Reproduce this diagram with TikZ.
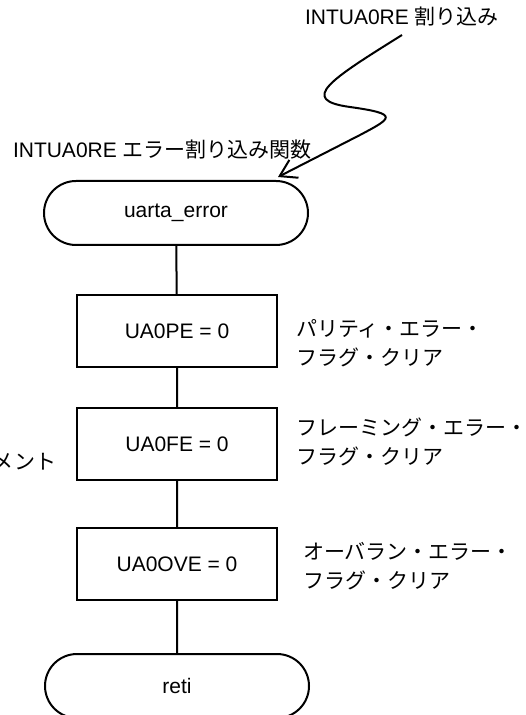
\documentclass[tikz,border=0pt]{standalone}
\usepackage{fontspec}
\setmainfont{Liberation Sans}
\newfontfamily\jpfont{Noto Sans CJK JP}
\usetikzlibrary{arrows.meta,positioning}

\begin{document}
\begin{tikzpicture}
[x=0.5pt, y=-0.5pt, line width=1pt,
% STYLES
every node/.style={inner sep=0pt, font=\fontsize{10.5}{14.5}\selectfont},
% The terminal style is used for the entry and the exit of the routine
terminal/.style={rectangle, draw, rounded corners=16pt, minimum width=132pt, minimum height=32pt},
% The process style is used for each flag that is cleared
process/.style={rectangle, draw, minimum width=100pt, minimum height=36pt},
% The comment style is used to describe each process
comment/.style={rectangle, align=left, anchor=west, font=\jpfont\fontsize{10.5}{14.5}\selectfont}]

\useasboundingbox (0,0) rectangle (525,715);

% Draw interrupt labels
\node [anchor=west] (irq) at (304,17) {INTUA0RE {\jpfont 割り込み}};
\node [anchor=west] (func) at (12,150) {INTUA0RE {\jpfont エラー割り込み関数}};

% Draw flow
\node [terminal] (start) at (176,213) {uarta\_error};
\node [process] (pe) at (177,331) {UA0PE = 0};
\node [process] (fe) at (177,444) {UA0FE = 0};
\node [process] (ove) at (177,564) {UA0OVE = 0};
\node [terminal] (reti) at (177,686) {reti};

% PARITY
\node [comment] (comment-pe) at (295,343) {パリティ・エラー・\\フラグ・クリア};
% FRAMING
\node [comment] (comment-fe) at (295,442) {フレーミング・エラー・\\フラグ・クリア};
% OVERRUN
\node [comment] (comment-ove) at (302,566) {オーバラン・エラー・\\フラグ・クリア};
% LEFT COMMENT
\node [comment, anchor=east] (comment-left) at (57,462) {メント};

% Draw the links between steps
\path[draw]
    (start) -- (pe)
    (pe) -- (fe)
    (fe) -- (ove)
    (ove) -- (reti);

% Interrupt arrow
\coordinate (irq-from) at (402,35);
\coordinate (irq-to) at (278,177);
\draw[-{Straight Barb[length=8pt,width=10pt]}] (irq-from)
    .. controls (330,80) and (298,100) .. (350,107)
    .. controls (400,114) and (392,118) .. (360,135) -- (irq-to);

\end{tikzpicture}
\end{document}
